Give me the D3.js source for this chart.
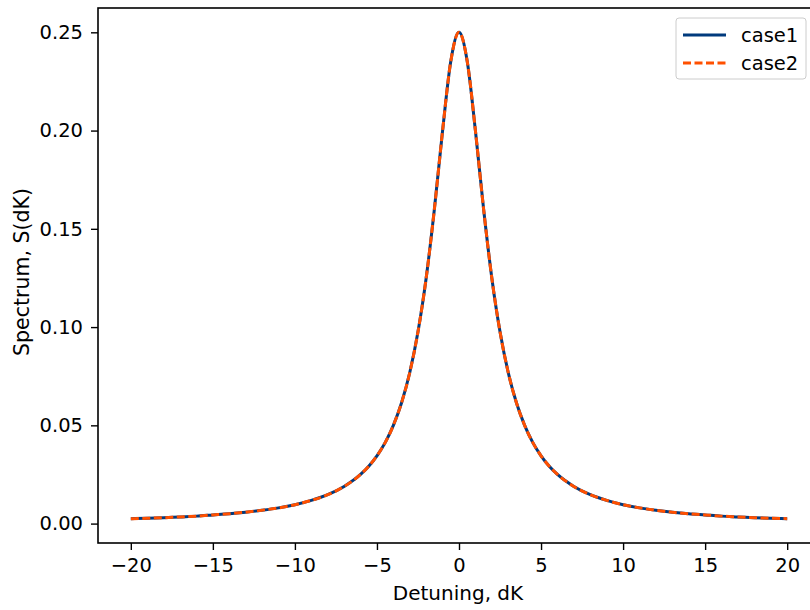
<!DOCTYPE html>
<html><head><meta charset="utf-8">
<script src="https://cdn.jsdelivr.net/npm/d3@7"></script>
<style>body{margin:0;background:#fff}svg{display:block}text{font-family:"DejaVu Sans",sans-serif;fill:#000}</style>
</head><body><svg id="c" width="810" height="610"></svg>
<script>
const detuning = [-20,-19,-18,-17,-16,-15,-14,-13,-12,-11,-10,-9,-8,-7,-6,-5.5,-5,-4.5,-4,-3.5,-3,-2.5,-2,-1.5,-1,-0.5,0,0.5,1,1.5,2,2.5,3,3.5,4,4.5,5,5.5,6,7,8,9,10,11,12,13,14,15,16,17,18,19,20];
const case1 = [0.0025,0.0027,0.0030,0.0034,0.0038,0.0044,0.0050,0.0058,0.0068,0.0080,0.0096,0.0118,0.0147,0.0189,0.0250,0.0292,0.0345,0.0412,0.0500,0.0615,0.0769,0.0976,0.1250,0.1600,0.2000,0.2353,0.2500,0.2353,0.2000,0.1600,0.1250,0.0976,0.0769,0.0615,0.0500,0.0412,0.0345,0.0292,0.0250,0.0189,0.0147,0.0118,0.0096,0.0080,0.0068,0.0058,0.0050,0.0044,0.0038,0.0034,0.0030,0.0027,0.0025];
const case2 = [0.0025,0.0027,0.0030,0.0034,0.0038,0.0044,0.0050,0.0058,0.0068,0.0080,0.0096,0.0118,0.0147,0.0189,0.0250,0.0292,0.0345,0.0412,0.0500,0.0615,0.0769,0.0976,0.1250,0.1600,0.2000,0.2353,0.2500,0.2353,0.2000,0.1600,0.1250,0.0976,0.0769,0.0615,0.0500,0.0412,0.0345,0.0292,0.0250,0.0189,0.0147,0.0118,0.0096,0.0080,0.0068,0.0058,0.0050,0.0044,0.0038,0.0034,0.0030,0.0027,0.0025];
const xTicks = [-20,-15,-10,-5,0,5,10,15,20];
const yTicks = [0.00,0.05,0.10,0.15,0.20,0.25];
const seriesNames = ["case1","case2"];
const colors = ["#003a7d","#ff5000"];

const svg = d3.select("#c");
const L = 98, R = 820, T = 8, B = 543;
const x = d3.scaleLinear().domain([-22,22]).range([L,R]);
const y = d3.scaleLinear().domain([-0.009875,0.262375]).range([B,T]);

const line = d3.line().x((d,i)=>x(detuning[i])).y(d=>y(d)).curve(d3.curveMonotoneX);
svg.append("path").datum(case1).attr("d",line).attr("fill","none").attr("stroke",colors[0]).attr("stroke-width",3);
svg.append("path").datum(case2).attr("d",line).attr("fill","none").attr("stroke",colors[1]).attr("stroke-width",3).attr("stroke-dasharray","8,3.5");

const xa = svg.append("g").attr("transform",`translate(0,${B})`).call(d3.axisBottom(x).tickValues(xTicks).tickSize(7).tickPadding(8).tickFormat(d=>d3.format("d")(d).replace("-","\u2212")));
const ya = svg.append("g").attr("transform",`translate(${L},0)`).call(d3.axisLeft(y).tickValues(yTicks).tickSize(7).tickPadding(8).tickFormat(d3.format(".2f")));
[xa,ya].forEach(a=>{a.selectAll("text").style("font-size","19.5px").style("font-family","DejaVu Sans");a.selectAll("line").attr("stroke","#000").attr("stroke-width",1.4);a.select(".domain").remove();});

svg.append("rect").attr("x",L).attr("y",T).attr("width",R-L).attr("height",B-T).attr("fill","none").attr("stroke","#000").attr("stroke-width",1.6);

svg.append("text").attr("x",458).attr("y",600).attr("text-anchor","middle").style("font-size","20px").text("Detuning, dK");
svg.append("text").attr("transform",`translate(29,272) rotate(-90)`).attr("text-anchor","middle").style("font-size","20.5px").text("Spectrum, S(dK)");

const lg = svg.append("g");
lg.append("rect").attr("x",676).attr("y",18).attr("width",130).attr("height",61).attr("rx",3).attr("fill","#fff").attr("fill-opacity",0.8).attr("stroke","#cccccc").attr("stroke-width",1);
seriesNames.forEach((n,i)=>{
  const yy = 35 + i*28;
  lg.append("line").attr("x1",683).attr("x2",726).attr("y1",yy).attr("y2",yy).attr("stroke",colors[i]).attr("stroke-width",3).attr("stroke-dasharray",i?"8,3.5":null);
  lg.append("text").attr("x",741).attr("y",yy+7).style("font-size","19.5px").text(n);
});
</script></body></html>
